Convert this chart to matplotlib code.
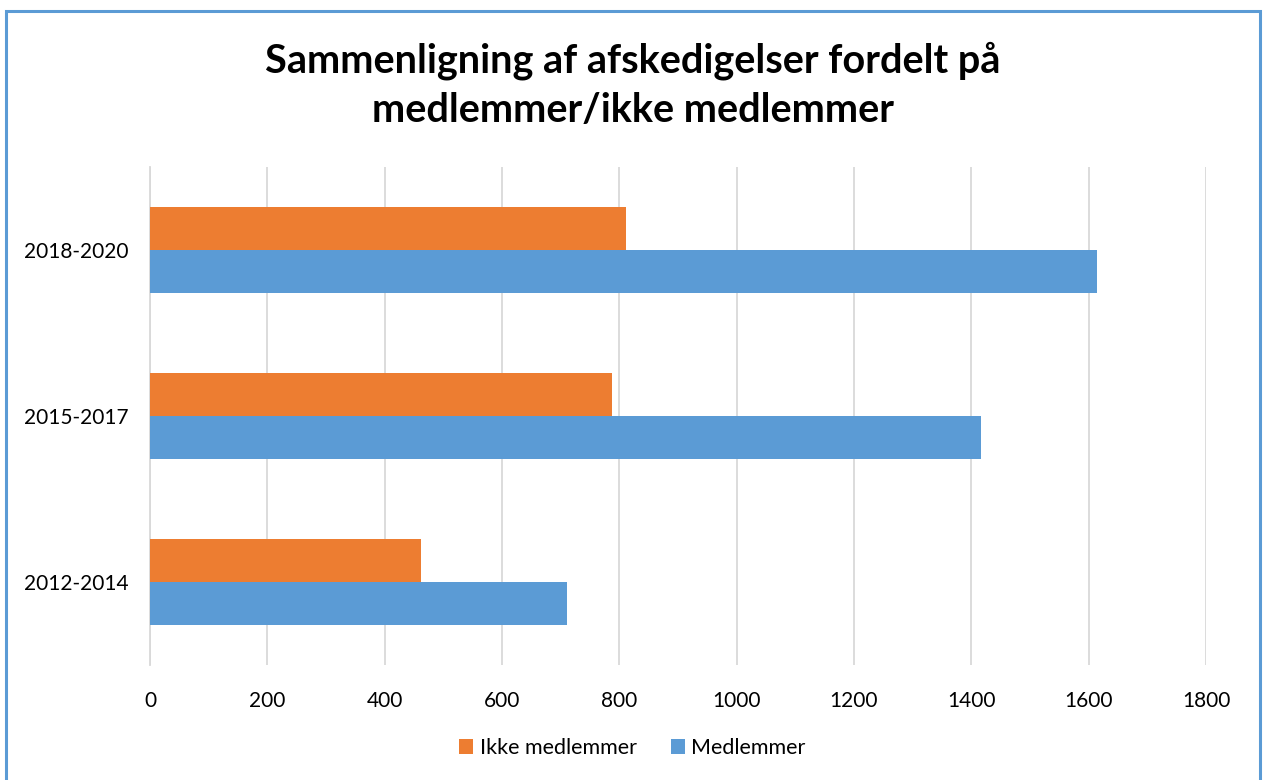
import matplotlib.pyplot as plt
from matplotlib.patches import Rectangle

periods = ['2012-2014', '2015-2017', '2018-2020']
ikke_medlemmer = [462, 788, 812]
medlemmer = [711, 1417, 1615]
xticks = [0, 200, 400, 600, 800, 1000, 1200, 1400, 1600, 1800]

orange = '#ed7d31'
blue = '#5b9bd5'
W, H = 1265, 780

plt.rcParams['font.family'] = ['Lato', 'DejaVu Sans']

fig = plt.figure(figsize=(W / 100, H / 100), dpi=100)
ax = fig.add_axes([150 / W, 1 - 665 / H, (1206 - 150) / W, (665 - 167) / H])

h = 0.262
ys = range(len(periods))
ax.barh([y + h / 2 for y in ys], ikke_medlemmer, height=h, color=orange,
        label='Ikke medlemmer', zorder=3)
ax.barh([y - h / 2 for y in ys], medlemmer, height=h, color=blue,
        label='Medlemmer', zorder=3)

ax.set_xlim(0, 1800)
ax.set_ylim(-0.5, 2.5)
ax.set_xticks(xticks)
ax.set_xticklabels([str(v) for v in xticks], fontsize=15, color='#000000')
ax.set_yticks(list(ys))
ax.set_yticklabels(periods, fontsize=15, color='#000000')
ax.tick_params(axis='both', length=0)
ax.tick_params(axis='x', pad=19)
ax.tick_params(axis='y', pad=15.5)
ax.grid(axis='x', color='#d9d9d9', linewidth=1.3, zorder=0)
for s in ['top', 'right', 'bottom']:
    ax.spines[s].set_visible(False)
ax.spines['left'].set_color('#d9d9d9')
ax.spines['left'].set_linewidth(1.3)

fig.text(0.5, 1 - 85 / H, 'Sammenligning af afskedigelser fordelt på\nmedlemmer/ikke medlemmer',
         ha='center', va='center', fontsize=28.5, fontweight='bold',
         linespacing=1.38, color='#000000')

fig.legend(loc='center', bbox_to_anchor=(0.5, 1 - 748 / H), ncol=2, frameon=False,
           fontsize=15.5, handlelength=0.65, handleheight=0.65, handletextpad=0.3,
           columnspacing=1.6)

fig.patches.append(Rectangle((6 / W, -0.05), (1259.5 - 6) / W, 1.05 - 11 / H,
                             transform=fig.transFigure, fill=False,
                             edgecolor=blue, linewidth=2.2))

fig.savefig('out.png', dpi=100)
